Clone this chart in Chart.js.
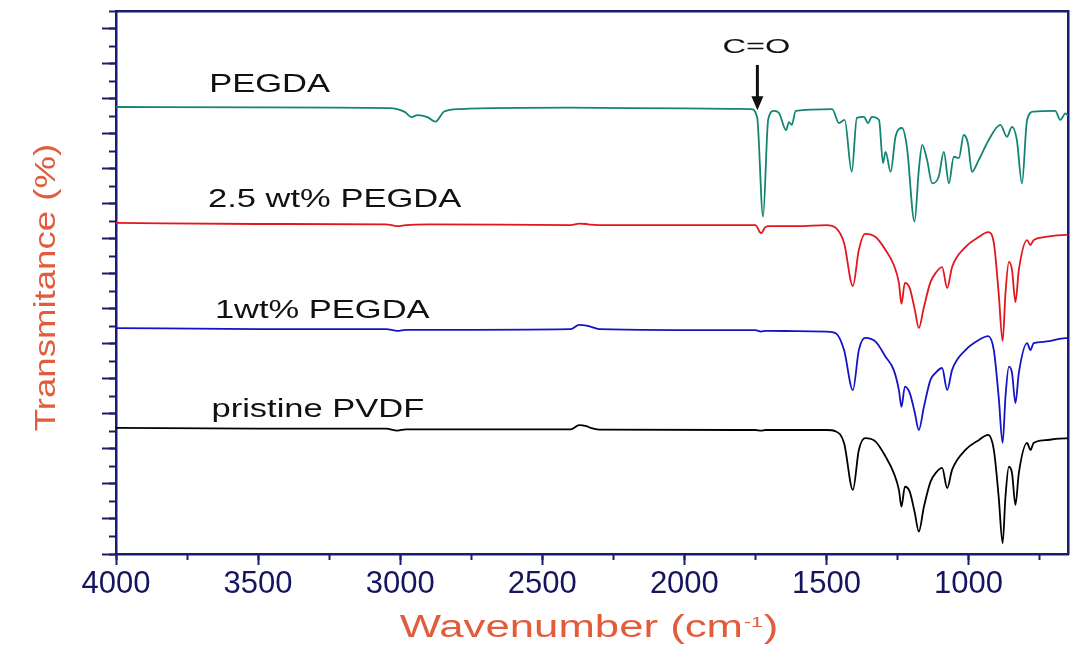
<!DOCTYPE html>
<html>
<head>
<meta charset="utf-8">
<script src="https://cdn.jsdelivr.net/npm/chart.js@4.4.1/dist/chart.umd.min.js"></script>
<style>
  html, body { margin: 0; padding: 0; background: #fff; }
</style>
</head>
<body>
<canvas id="ftir" width="1080" height="658"></canvas>
<script>
// FTIR spectra, wavenumber in cm-1, transmittance in offset units
const wnPvdf = [4000, 3500, 3050, 3010, 2980, 2900, 2400, 2370, 2345, 2330,
  2300, 1800, 1750, 1730, 1715, 1700, 1600, 1500, 1467, 1438,
  1407, 1386, 1364, 1327, 1292, 1263, 1245, 1236, 1224, 1207,
  1189, 1175, 1157, 1134, 1116, 1093, 1075, 1058, 1011, 964,
  931, 911, 894, 880, 870, 858, 847, 835, 823, 794,
  782, 771, 730, 659, 650];

const pvdf25 = [94.5, 94.2, 94.1, 93.6, 93.9, 94.1, 93.9, 94.3, 94.2, 94.0,
  93.9, 93.9, 93.9, 91.6, 93.3, 93.6, 93.6, 93.9, 93.1, 88.8,
  76.5, 86.8, 91.4, 90.5, 86.8, 82.5, 77.4, 71.4, 77.4, 75.9,
  69.7, 64.5, 70.5, 77.6, 80.2, 81.9, 75.9, 81.9, 87.6, 90.5,
  91.9, 88.8, 74.5, 60.8, 74.5, 83.4, 81.1, 71.9, 81.1, 89.6,
  88.2, 89.6, 90.5, 91.1, 91.1];

const pvdf1 = [64.5, 64.2, 64.2, 63.7, 64.0, 64.0, 64.2, 65.4, 65.2, 64.9,
  64.2, 63.9, 63.9, 63.5, 63.7, 63.7, 63.6, 63.5, 63.0, 58.2,
  46.8, 58.2, 61.7, 60.6, 56.3, 52.5, 46.8, 42.0, 47.8, 46.0,
  40.3, 35.4, 42.0, 49.7, 51.7, 53.1, 46.8, 52.5, 58.2, 61.1,
  62.2, 58.2, 44.9, 31.7, 44.9, 53.5, 51.7, 43.1, 51.7, 60.2,
  58.2, 60.2, 60.6, 61.6, 61.6];

const pristine = [36.0, 35.8, 35.8, 35.2, 35.6, 35.6, 35.6, 36.8, 36.5, 36.0,
  35.5, 35.4, 35.4, 35.2, 35.4, 35.4, 35.4, 35.4, 35.0, 31.7,
  18.3, 29.7, 33.1, 32.1, 27.8, 23.1, 18.3, 13.5, 19.2, 17.8,
  11.7, 6.4, 13.5, 20.6, 23.1, 24.6, 18.8, 24.0, 29.7, 32.5,
  34.0, 29.7, 16.4, 3.1, 16.4, 24.9, 23.1, 14.0, 23.1, 31.7,
  29.7, 31.7, 32.5, 33.0, 33.0];

const wnPegda = [4000, 3500, 3037, 2984, 2960, 2939, 2904, 2876, 2845, 2791,
  2400, 2000, 1766, 1744, 1723, 1705, 1684, 1667, 1642, 1632,
  1622, 1608, 1480, 1456, 1436, 1411, 1393, 1368, 1354, 1340,
  1315, 1301, 1292, 1274, 1257, 1234, 1217, 1190, 1175, 1163,
  1146, 1128, 1105, 1087, 1069, 1052, 1034, 1017, 1002, 988,
  964, 929, 888, 865, 847, 830, 812, 794, 771, 695,
  677, 659, 650];

const pegda = [127.6, 127.5, 127.3, 126.2, 124.7, 125.3, 124.7, 123.4, 126.3, 127.0,
  127.4, 127.2, 127.0, 124.7, 96.3, 124.0, 126.5, 125.9, 121.0, 123.3,
  122.5, 126.5, 127.0, 123.0, 123.9, 109.1, 124.5, 124.8, 123.0, 124.8,
  123.9, 111.6, 114.8, 109.1, 119.1, 121.6, 116.3, 94.9, 109.6, 116.8,
  112.5, 105.8, 107.7, 114.8, 105.8, 113.4, 113.0, 119.6, 117.2, 109.1,
  112.5, 118.2, 122.5, 119.1, 121.9, 118.2, 105.8, 123.9, 126.3, 126.5,
  123.9, 125.8, 125.2];

const seriesNames = ['PEGDA', '2.5 wt% PEGDA', '1wt% PEGDA', 'pristine PVDF'];
const xTickLabels = [4000, 3500, 3000, 2500, 2000, 1500, 1000];

const navy = '#1c1c6e';
const titleColor = '#e25b3b';
const textFont = '"Liberation Sans", Arial, sans-serif';

const pts = (xs, ys) => xs.map((w, i) => ({ x: w, y: ys[i] }));

// text labels on the plot, placed in data coordinates
const notes = [
  { text: seriesNames[0], x: 3672, y: 131.8 },
  { text: seriesNames[1], x: 3676, y: 99.1 },
  { text: seriesNames[2], x: 3652, y: 67.3 },
  { text: seriesNames[3], x: 3664, y: 39.0 }
];

function wideText(ctx, txt, x, y, sx, align) {
  ctx.save();
  ctx.translate(x, y);
  ctx.scale(sx, 1);
  ctx.textAlign = align;
  ctx.textBaseline = 'alphabetic';
  ctx.fillText(txt, 0, 0);
  ctx.restore();
}

const annotate = {
  id: 'annotate',
  afterDraw(chart) {
    const { ctx } = chart;
    const x = chart.scales.x, y = chart.scales.y;
    ctx.save();
    ctx.fillStyle = '#111';
    ctx.font = '25px ' + textFont;
    notes.forEach(n => {
      wideText(ctx, n.text, x.getPixelForValue(n.x), y.getPixelForValue(n.y), 1.38, 'left');
    });

    // C=O band marker
    const ax = x.getPixelForValue(1743);
    ctx.font = '21px ' + textFont;
    wideText(ctx, 'C=O', ax - 1, y.getPixelForValue(142.9), 1.55, 'center');
    const yTop = y.getPixelForValue(139.6);
    const yTip = y.getPixelForValue(126.7);
    ctx.strokeStyle = '#111';
    ctx.lineWidth = 3;
    ctx.beginPath();
    ctx.moveTo(ax, yTop);
    ctx.lineTo(ax, yTip - 12);
    ctx.stroke();
    ctx.beginPath();
    ctx.moveTo(ax - 6, yTip - 14);
    ctx.lineTo(ax + 6, yTip - 14);
    ctx.lineTo(ax, yTip);
    ctx.closePath();
    ctx.fill();

    // axis titles
    ctx.fillStyle = titleColor;
    const sx = 1.41;
    ctx.font = '31px ' + textFont;
    const main = 'Wavenumber (cm';
    const w1 = ctx.measureText(main).width * sx;
    const w3 = ctx.measureText(')').width * sx;
    ctx.font = '15px ' + textFont;
    const w2 = ctx.measureText('-1').width * sx;
    const area = chart.chartArea;
    let left = (area.left + area.right) / 2 - (w1 + w2 + w3) / 2 - 4;
    const base = 637;
    ctx.font = '31px ' + textFont;
    wideText(ctx, main, left, base, sx, 'left');
    ctx.font = '15px ' + textFont;
    wideText(ctx, '-1', left + w1 + 1, base - 10, sx, 'left');
    ctx.font = '31px ' + textFont;
    wideText(ctx, ')', left + w1 + w2 + 2, base, sx, 'left');

    ctx.save();
    ctx.translate(55, (area.top + area.bottom) / 2 + 5);
    ctx.rotate(-Math.PI / 2);
    ctx.font = '30px ' + textFont;
    wideText(ctx, 'Transmitance (%)', 0, 0, 1.22, 'center');
    ctx.restore();
    ctx.restore();
  }
};

const ctx = document.getElementById('ftir').getContext('2d');
new Chart(ctx, {
  type: 'line',
  data: {
    datasets: [
      { label: seriesNames[0], data: pts(wnPegda, pegda), borderColor: '#138474' },
      { label: seriesNames[1], data: pts(wnPvdf, pvdf25), borderColor: '#e3161d' },
      { label: seriesNames[2], data: pts(wnPvdf, pvdf1), borderColor: '#1414c4' },
      { label: seriesNames[3], data: pts(wnPvdf, pristine), borderColor: '#000000' }
    ]
  },
  options: {
    responsive: false,
    animation: false,
    layout: { padding: { left: 0, top: 11, right: 12, bottom: 0 } },
    elements: {
      point: { radius: 0 },
      line: { borderWidth: 1.8, cubicInterpolationMode: 'monotone' }
    },
    plugins: { legend: { display: false }, tooltip: { enabled: false } },
    scales: {
      x: {
        type: 'linear', position: 'bottom', weight: 1,
        min: 650, max: 4000, reverse: true,
        afterBuildTicks: s => { s.ticks = xTickLabels.map(v => ({ value: v })); },
        ticks: {
          color: '#15155e', padding: 1, maxRotation: 0,
          font: { family: textFont, size: 31 },
          callback: v => String(v)
        },
        grid: { drawOnChartArea: false, tickLength: 11, tickWidth: 2, tickColor: navy },
        border: { color: navy, width: 2.5 },
        afterFit: s => { s.height = 104; }
      },
      xMinor: {
        type: 'linear', position: 'bottom', weight: 0,
        min: 650, max: 4000, reverse: true,
        ticks: { display: false, stepSize: 250, includeBounds: false },
        grid: { drawOnChartArea: false, tickLength: 6, tickWidth: 2, tickColor: navy },
        border: { display: false },
        afterFit: s => { s.height = 0; }
      },
      xTop: {
        type: 'linear', position: 'top',
        min: 650, max: 4000, reverse: true,
        ticks: { display: false },
        grid: { drawOnChartArea: false, drawTicks: false },
        border: { color: navy, width: 2.5 },
        afterFit: s => { s.height = 0; }
      },
      y: {
        type: 'linear', position: 'left', weight: 1,
        min: 0, max: 155,
        ticks: { display: false, stepSize: 10, includeBounds: false },
        grid: { drawOnChartArea: false, tickLength: 14, tickWidth: 2, tickColor: navy },
        border: { color: navy, width: 2.5 },
        afterFit: s => { s.width = 116; }
      },
      yMinor: {
        type: 'linear', position: 'left', weight: 0,
        min: 0, max: 155,
        ticks: { display: false, stepSize: 5, includeBounds: false },
        grid: { drawOnChartArea: false, tickLength: 7, tickWidth: 2, tickColor: navy },
        border: { display: false },
        afterFit: s => { s.width = 0; }
      },
      yRight: {
        type: 'linear', position: 'right',
        min: 0, max: 155,
        ticks: { display: false },
        grid: { drawOnChartArea: false, drawTicks: false },
        border: { color: navy, width: 2.5 },
        afterFit: s => { s.width = 0; }
      }
    }
  },
  plugins: [annotate]
});
</script>
</body>
</html>
